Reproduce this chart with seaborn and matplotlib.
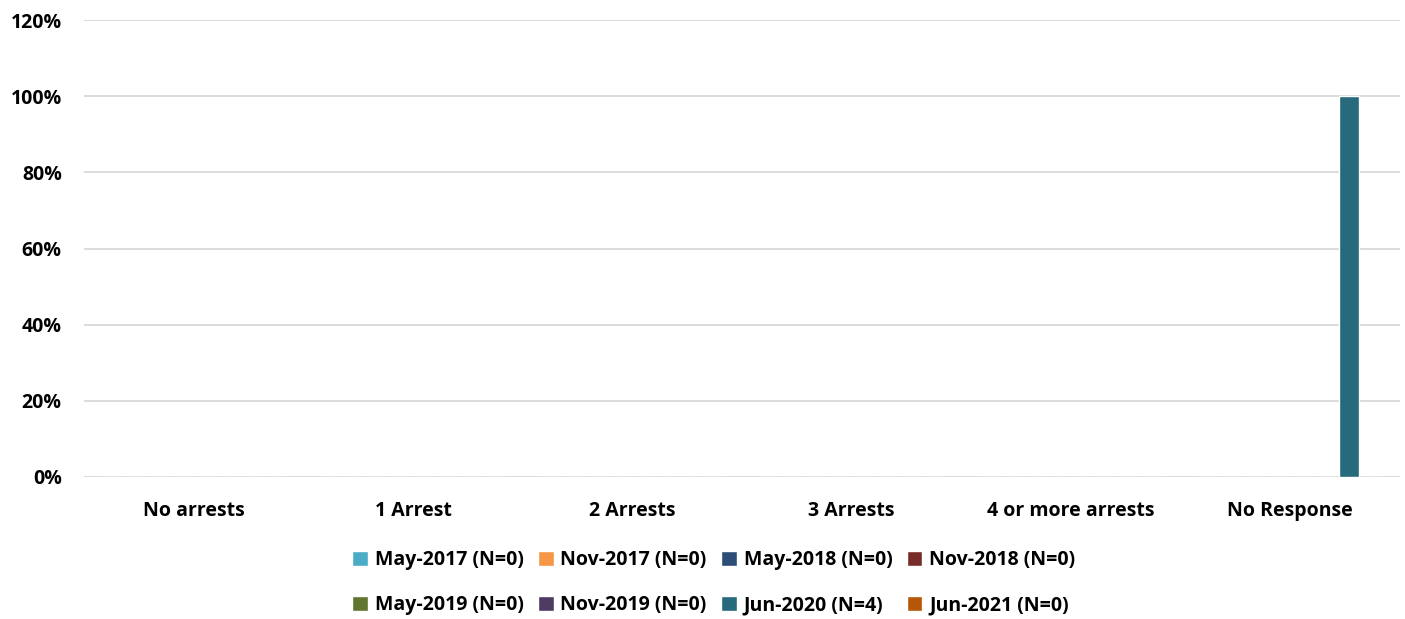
import pandas as pd
import matplotlib.pyplot as plt
import seaborn as sns
from matplotlib.ticker import PercentFormatter
from matplotlib.patches import Patch

categories = ["No arrests", "1 Arrest", "2 Arrests", "3 Arrests", "4 or more arrests", "No Response"]
series = ["May-2017 (N=0)", "Nov-2017 (N=0)", "May-2018 (N=0)", "Nov-2018 (N=0)",
          "May-2019 (N=0)", "Nov-2019 (N=0)", "Jun-2020 (N=4)", "Jun-2021 (N=0)"]
colors = ["#4BACC6", "#F79646", "#2C4D75", "#772C2A", "#5F7530", "#4D3B62", "#276A7C", "#B65708"]

may_2017 = [0, 0, 0, 0, 0, 0]
nov_2017 = [0, 0, 0, 0, 0, 0]
may_2018 = [0, 0, 0, 0, 0, 0]
nov_2018 = [0, 0, 0, 0, 0, 0]
may_2019 = [0, 0, 0, 0, 0, 0]
nov_2019 = [0, 0, 0, 0, 0, 0]
jun_2020 = [0, 0, 0, 0, 0, 100]
jun_2021 = [0, 0, 0, 0, 0, 0]

values = [may_2017, nov_2017, may_2018, nov_2018, may_2019, nov_2019, jun_2020, jun_2021]

rows = []
for s, vals in zip(series, values):
    for c, v in zip(categories, vals):
        rows.append({"category": c, "series": s, "pct": v})
df = pd.DataFrame(rows)

sns.set_style("white")
plt.rcParams['font.family'] = ['Open Sans', 'DejaVu Sans']
plt.rcParams['font.weight'] = 'bold'
plt.rcParams['text.color'] = 'black'
plt.rcParams['xtick.color'] = 'black'
plt.rcParams['ytick.color'] = 'black'

fig = plt.figure(figsize=(14.05, 6.19), dpi=100)
ax = fig.add_axes([84 / 1405, 1 - 477 / 619, 1316 / 1405, 457 / 619])

sns.barplot(data=df, x="category", y="pct", hue="series", order=categories,
            hue_order=series, palette=colors, width=0.853, gap=0.17,
            ax=ax, legend=False, saturation=1)

ax.set_ylim(0, 120)
ax.set_yticks(range(0, 121, 20))
ax.yaxis.set_major_formatter(PercentFormatter(decimals=0))
ax.grid(axis='y', color='#D9D9D9', linewidth=1.3)
ax.set_axisbelow(True)
for sp in ax.spines.values():
    sp.set_visible(False)
ax.set_xlabel("")
ax.set_ylabel("")
ax.tick_params(axis='y', length=0, pad=16, labelsize=14, labelcolor='black')
ax.tick_params(axis='x', length=0, pad=17, labelsize=14, labelcolor='black')
for lab in ax.get_xticklabels() + ax.get_yticklabels():
    lab.set_fontweight('bold')

# legend fills row by row like the original
handles = [Patch(facecolor=c, label=s) for s, c in zip(series, colors)]
order = [0, 4, 1, 5, 2, 6, 3, 7]
handles = [handles[i] for i in order]
fig.legend(handles=handles, ncol=4, loc='upper center', bbox_to_anchor=(0.508, 0.14),
           frameon=False, handlelength=0.8, handleheight=0.8,
           handletextpad=0.35, columnspacing=0.75, labelspacing=1.3,
           prop={'weight': 'bold', 'size': 14})

fig.savefig("out.png", dpi=100)
